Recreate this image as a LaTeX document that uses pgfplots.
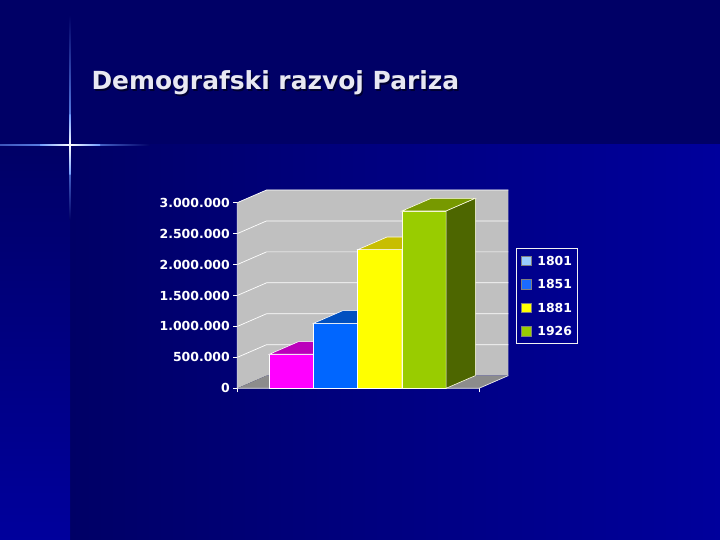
\documentclass[border=0pt]{standalone}
\usepackage{pgfplots}
\pgfplotsset{compat=1.18}
\usepackage{fontspec}
\setmainfont{DejaVu Sans}
\definecolor{bgdark}{HTML}{000066}
\definecolor{bgbright}{HTML}{00009C}
\definecolor{glow}{HTML}{6E9BFF}
\definecolor{wallgray}{HTML}{C0C0C0}
\definecolor{floorgray}{HTML}{8C8C8C}
\definecolor{magF}{HTML}{FF00FF}\definecolor{magT}{HTML}{BB00BB}\definecolor{magS}{HTML}{800080}
\definecolor{bluF}{HTML}{0066FF}\definecolor{bluT}{HTML}{0050C0}\definecolor{bluS}{HTML}{003399}
\definecolor{yelF}{HTML}{FFFF00}\definecolor{yelT}{HTML}{C8BE00}\definecolor{yelS}{HTML}{999900}
\definecolor{grnF}{HTML}{99CC00}\definecolor{grnT}{HTML}{779900}\definecolor{grnS}{HTML}{4D6600}
\definecolor{leg1801}{HTML}{99CCFF}\definecolor{leg1851}{HTML}{1A6BFF}
\definecolor{leg1881}{HTML}{FFFF00}\definecolor{leg1926}{HTML}{99CC00}
\definecolor{titlecol}{HTML}{E8E8F2}
\begin{document}
\begin{tikzpicture}[x=1bp,y=1bp]
\path[use as bounding box] (0,0) rectangle (720,540);
% slide background
\fill[bgdark] (0,0) rectangle (720,540);
\shade[left color=bgdark, right color=bgbright] (70,0) rectangle (720,395);
\shade[top color=bgdark, bottom color=bgbright] (0,0) rectangle (70,395);
% light cross
\shade[top color=bgdark, bottom color=glow] (69.2,525) rectangle (70.8,395);
\shade[top color=glow, bottom color=bgdark] (69.2,395) rectangle (70.8,320);
\shade[left color=glow!55!bgdark, right color=glow] (0,394.2) rectangle (70,395.8);
\shade[left color=glow, right color=bgdark] (70,394.2) rectangle (150,395.8);
\shade[top color=glow, bottom color=white] (69.4,425) rectangle (70.6,395);
\shade[top color=white, bottom color=glow] (69.4,395) rectangle (70.6,365);
\shade[left color=glow, right color=white] (40,394.4) rectangle (70,395.6);
\shade[left color=white, right color=glow] (70,394.4) rectangle (100,395.6);
% title
\node[anchor=base west, text=black, opacity=0.5, font=\bfseries\fontsize{25}{30}\selectfont] at (89.5,448.7) {Demografski razvoj Pariza};
\node[anchor=base west, text=titlecol, font=\bfseries\fontsize{25}{30}\selectfont] at (88,450) {Demografski razvoj Pariza};
\begin{axis}[
  at={(237.3bp,151.7bp)}, anchor=south west, scale only axis,
  width=272.7bp, height=204.2bp,
  xmin=237.3, xmax=510, ymin=0, ymax=3300000,
  clip=false,
  axis line style={draw=none},
  xtick={237.3,479}, xticklabels={}, xtick pos=bottom,
  ytick={0,500000,1000000,1500000,2000000,2500000,3000000}, ytick pos=left,
  scaled y ticks=false,
  tick align=outside, major tick length=4bp,
  tick style={white, line width=0.7bp},
  /pgf/number format/assume math mode=true,
  yticklabel style={text=white, font=\bfseries\fontsize{12.5}{14}\selectfont,
    /pgf/number format/fixed, /pgf/number format/1000 sep={.}},
  legend style={at={(1.022,0.685)}, anchor=north west, draw=white!90!gray, line width=0.7bp,
    fill=none, text=white, font=\bfseries\fontsize{12.5}{14}\selectfont,
    inner xsep=5bp, inner ysep=7bp, row sep=13.5bp, column sep=6bp,
    nodes={inner sep=0bp, text height=9bp, text depth=0bp}},
  legend cell align=left,
  legend image code/.code={\draw[#1] (0bp,-4.6bp) rectangle (9.6bp,5bp);},
]
% walls and floor
\addplot[forget plot, fill=wallgray, draw=none] coordinates {(237.3,0) (266.6,205000) (508.3,205000) (508.3,3205000) (266.6,3205000) (237.3,3000000)} -- cycle;
\addplot[forget plot, fill=floorgray, draw=none] coordinates {(237.3,0) (479,0) (508.3,205000) (266.6,205000)} -- cycle;
% gridlines
\addplot[forget plot, white, line width=0.7bp] coordinates {(237.3,500000) (266.6,705000) (508.3,705000)};
\addplot[forget plot, white, line width=0.7bp] coordinates {(237.3,1000000) (266.6,1205000) (508.3,1205000)};
\addplot[forget plot, white, line width=0.7bp] coordinates {(237.3,1500000) (266.6,1705000) (508.3,1705000)};
\addplot[forget plot, white, line width=0.7bp] coordinates {(237.3,2000000) (266.6,2205000) (508.3,2205000)};
\addplot[forget plot, white, line width=0.7bp] coordinates {(237.3,2500000) (266.6,2705000) (508.3,2705000)};
\addplot[forget plot, white, line width=0.7bp] coordinates {(237.3,3000000) (266.6,3205000) (508.3,3205000)};
% axis edges
\addplot[forget plot, white!85!gray, line width=0.7bp] coordinates {(237.3,3000000) (237.3,0) (479,0) (508.3,205000)};
% bar 1801
\addplot[forget plot, fill=magF, draw=white, line width=0.6bp] coordinates {(269.3,0) (313.5,0) (313.5,550000) (269.3,550000)} -- cycle;
\addplot[forget plot, fill=magT, draw=white, line width=0.6bp] coordinates {(269.3,550000) (313.5,550000) (342.8,755000) (298.6,755000)} -- cycle;
\addplot[forget plot, fill=magS, draw=white, line width=0.6bp] coordinates {(313.5,0) (342.8,205000) (342.8,755000) (313.5,550000)} -- cycle;
% bar 1851
\addplot[forget plot, fill=bluF, draw=white, line width=0.6bp] coordinates {(313.5,0) (357.7,0) (357.7,1050000) (313.5,1050000)} -- cycle;
\addplot[forget plot, fill=bluT, draw=white, line width=0.6bp] coordinates {(313.5,1050000) (357.7,1050000) (387.0,1255000) (342.8,1255000)} -- cycle;
\addplot[forget plot, fill=bluS, draw=white, line width=0.6bp] coordinates {(357.7,0) (387.0,205000) (387.0,1255000) (357.7,1050000)} -- cycle;
% bar 1881
\addplot[forget plot, fill=yelF, draw=white, line width=0.6bp] coordinates {(357.7,0) (401.9,0) (401.9,2240000) (357.7,2240000)} -- cycle;
\addplot[forget plot, fill=yelT, draw=white, line width=0.6bp] coordinates {(357.7,2240000) (401.9,2240000) (431.2,2445000) (387.0,2445000)} -- cycle;
\addplot[forget plot, fill=yelS, draw=white, line width=0.6bp] coordinates {(401.9,0) (431.2,205000) (431.2,2445000) (401.9,2240000)} -- cycle;
% bar 1926
\addplot[forget plot, fill=grnF, draw=white!90!yellow, line width=0.6bp] coordinates {(401.9,0) (446.1,0) (446.1,2865000) (401.9,2865000)} -- cycle;
\addplot[forget plot, fill=grnT, draw=white!90!yellow, line width=0.6bp] coordinates {(401.9,2865000) (446.1,2865000) (475.4,3070000) (431.2,3070000)} -- cycle;
\addplot[forget plot, fill=grnS, draw=white!90!yellow, line width=0.6bp] coordinates {(446.1,0) (475.4,205000) (475.4,3070000) (446.1,2865000)} -- cycle;
% legend
\addlegendimage{fill=leg1801, draw=black!50, line width=0.4bp}
\addlegendentry{1801}
\addlegendimage{fill=leg1851, draw=black!50, line width=0.4bp}
\addlegendentry{1851}
\addlegendimage{fill=leg1881, draw=black!50, line width=0.4bp}
\addlegendentry{1881}
\addlegendimage{fill=leg1926, draw=black!50, line width=0.4bp}
\addlegendentry{1926}
\end{axis}
\end{tikzpicture}
\end{document}
